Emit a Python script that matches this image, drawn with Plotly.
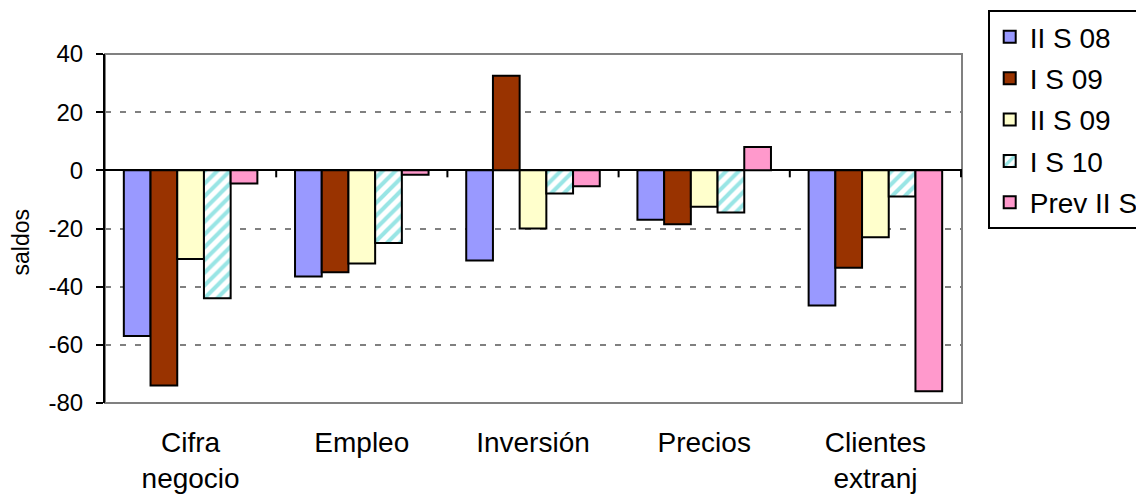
import plotly.graph_objects as go

categories = ["Cifra<br>negocio", "Empleo", "Inversión", "Precios", "Clientes<br>extranj"]
series_names = ["II S 08", "I S 09", "II S 09", "I S 10", "Prev II S"]
ii_s_08 = [-57, -36.5, -31, -17, -46.5]
i_s_09 = [-74, -35, 32.5, -18.5, -33.5]
ii_s_09 = [-30.5, -32, -20, -12.5, -23]
i_s_10 = [-44, -25, -8, -14.5, -9]
prev_ii_s = [-4.5, -1.5, -5.5, 8, -76]
y_ticks = [-80, -60, -40, -20, 0, 20, 40]
y_ticktext = [str(v) for v in y_ticks]

FONT = "Liberation Sans, Arial, sans-serif"

fig = go.Figure()
styles = [
    dict(color="#9999FF"),
    dict(color="#993300"),
    dict(color="#FFFFCC"),
    dict(color="#FFFFFF", pattern=dict(shape="/", fgcolor="#33CCCC", bgcolor="#FFFFFF", size=9, solidity=0.45)),
    dict(color="#FF99CC"),
]
for name, vals, st in zip(series_names, [ii_s_08, i_s_09, ii_s_09, i_s_10, prev_ii_s], styles):
    marker = dict(st)
    marker["line"] = dict(color="black", width=2)
    fig.add_trace(go.Bar(x=categories, y=vals, name=name, marker=marker, legendgroup=name))

# tick marks on the zero line at category boundaries
for b in [0.5, 1.5, 2.5, 3.5, 4.5]:
    fig.add_shape(type="line", xref="x", yref="y", x0=b, x1=b, ysizemode="pixel", yanchor=0,
                  y0=0, y1=-7, line=dict(color="black", width=2))

# plot-area border
fig.add_shape(type="rect", xref="paper", yref="paper", x0=0, x1=1, y0=0, y1=1,
              line=dict(color="#808080", width=2), layer="below")

fig.add_annotation(text="saldos", xref="paper", yref="paper", x=0, y=0.46,
                   xanchor="center", yanchor="middle", xshift=-84, textangle=-90,
                   showarrow=False, font=dict(size=23))

fig.update_layout(
    width=1136, height=487,
    margin=dict(l=97, r=182, t=46, b=92, autoexpand=False),
    paper_bgcolor="white", plot_bgcolor="white",
    barmode="group", bargap=0.22, bargroupgap=0,
    font=dict(family=FONT, size=24, color="black"),
    showlegend=True,
    legend=dict(x=1.030, xanchor="left", y=1.126, yanchor="top",
                bordercolor="black", borderwidth=2, bgcolor="white",
                font=dict(size=28), tracegroupgap=2, itemwidth=30),
    xaxis=dict(showline=False, ticks="", showgrid=False, tickfont=dict(size=28),
               ticklabelstandoff=20),
    yaxis=dict(range=[-80, 40], tickvals=y_ticks, ticktext=y_ticktext,
               showline=True, linecolor="black", linewidth=2,
               ticks="outside", ticklen=7, tickwidth=2, tickcolor="black",
               showgrid=True, gridcolor="#808080", gridwidth=2, griddash="6px,9px",
               zeroline=True, zerolinecolor="black", zerolinewidth=2,
               tickfont=dict(size=24), ticklabelstandoff=8),
)
fig.write_html("out.html")
